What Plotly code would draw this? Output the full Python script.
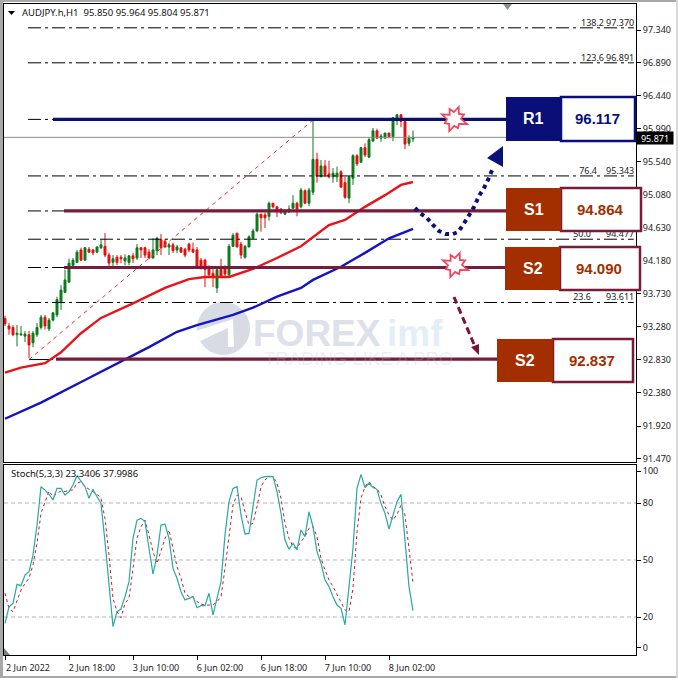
import plotly.graph_objects as go
import math

# ---------- data ----------
opens = [93.39,93.29,93.27,93.17,93.17,93.15,93.17,93.06,93.17,93.27,93.41,93.25,93.37,93.44,93.62,93.75,93.89,94.12,94.16,94.33,94.19,94.34,94.33,94.30,94.36,94.38,94.26,94.16,94.23,94.23,94.18,94.16,94.25,94.22,94.36,94.36,94.30,94.22,94.32,94.47,94.45,94.37,94.40,94.33,94.36,94.34,94.41,94.34,94.33,94.19,94.19,94.08,94.01,93.81,94.08,94.08,93.99,94.38,94.56,94.41,94.23,94.37,94.49,94.59,94.82,94.81,94.79,94.97,94.92,94.89,94.82,94.85,94.90,94.97,94.92,95.14,94.97,95.12,95.57,95.33,95.48,95.37,95.33,95.33,95.40,95.25,95.04,95.31,95.62,95.53,95.73,95.60,95.82,95.96,95.86,95.86,95.93,95.88,96.11,96.18,96.09,95.79,95.850]
highs = [93.43,93.33,93.30,93.30,93.29,93.22,93.22,93.22,93.33,93.44,93.44,93.40,93.48,93.69,93.85,94.06,94.21,94.22,94.33,94.36,94.37,94.37,94.34,94.38,94.47,94.56,94.29,94.26,94.26,94.26,94.27,94.26,94.29,94.41,94.37,94.37,94.34,94.49,94.51,94.55,94.48,94.43,94.43,94.40,94.37,94.36,94.43,94.43,94.37,94.22,94.21,94.12,94.10,94.08,94.21,94.12,94.41,94.56,94.56,94.44,94.40,94.53,94.62,94.84,94.82,94.84,94.99,94.97,94.93,94.90,94.89,94.94,95.08,94.99,95.18,95.16,95.18,96.11,95.66,95.56,95.56,95.55,95.45,95.47,95.42,95.33,95.34,95.64,95.64,95.74,95.79,95.86,96.00,95.99,95.92,95.93,95.93,96.14,96.19,96.19,96.11,95.90,95.964]
lows = [93.29,93.17,93.15,93.01,93.15,93.07,92.85,93.00,93.14,93.24,93.24,93.22,93.35,93.41,93.51,93.74,93.88,94.10,94.15,94.18,94.18,94.29,94.26,94.29,94.34,94.23,94.08,94.11,94.12,94.15,94.12,94.12,94.15,94.19,94.22,94.22,94.21,94.21,94.26,94.26,94.36,94.26,94.29,94.29,94.29,94.23,94.30,94.29,94.08,94.06,93.82,93.95,93.82,93.74,93.96,93.95,93.96,94.37,94.37,94.21,94.21,94.37,94.48,94.58,94.58,94.63,94.73,94.90,94.78,94.82,94.81,94.84,94.89,94.79,94.90,94.96,94.93,95.08,95.25,95.33,95.33,95.31,95.25,95.26,95.18,95.03,94.97,95.22,95.48,95.53,95.60,95.59,95.81,95.85,95.81,95.86,95.86,95.82,96.04,96.01,95.71,95.75,95.804]
closes = [93.32,93.25,93.17,93.19,93.18,93.18,93.03,93.19,93.27,93.41,93.29,93.37,93.47,93.65,93.78,93.92,94.15,94.19,94.30,94.19,94.36,94.30,94.29,94.37,94.40,94.26,94.15,94.21,94.16,94.21,94.22,94.25,94.21,94.36,94.33,94.26,94.22,94.33,94.49,94.36,94.37,94.40,94.32,94.37,94.30,94.26,94.33,94.30,94.10,94.08,94.06,93.99,93.96,94.06,93.97,94.00,94.38,94.53,94.37,94.26,94.38,94.51,94.59,94.82,94.77,94.77,94.97,94.92,94.85,94.84,94.86,94.89,94.97,94.89,95.15,94.97,95.15,95.57,95.34,95.48,95.36,95.33,95.38,95.38,95.19,95.05,95.33,95.62,95.51,95.73,95.63,95.84,95.96,95.86,95.89,95.93,95.88,96.14,96.18,96.09,95.78,95.86,95.871]

ma_red_i = [0,4,10,14,19,24,32,40,46,50,56,62,68,74,81,85,90,95,99,102]
ma_red = [92.65,92.72,92.78,92.93,93.19,93.40,93.60,93.81,93.93,93.96,93.96,94.07,94.22,94.38,94.67,94.74,94.92,95.08,95.22,95.26]
ma_blue_i = [0,9,20,29,36,43,48,57,62,68,74,77,84,90,96,102]
ma_blue = [92.02,92.24,92.55,92.80,93.00,93.21,93.30,93.44,93.54,93.69,93.81,93.92,94.10,94.29,94.49,94.62]

stoch_main = [16.7,25.4,27.2,37.2,36.5,42.1,43.9,52.6,68.4,88.6,86.8,84.6,81.6,87.7,87.7,84.2,86.0,89.5,94.4,91.2,88.6,82.5,87.2,83.3,79.8,59.7,35.1,14.9,22.8,24.2,30.7,38.6,61.4,71.0,71.9,70.2,56.2,42.5,52.6,68.4,68.8,61.4,45.6,40.4,33.3,29.0,29.8,30.7,24.9,26.0,26.0,32.5,21.1,29.8,38.6,63.2,80.7,87.7,88.6,73.7,63.7,64.0,77.2,92.1,93.3,93.9,94.0,93.9,86.0,74.6,60.5,55.6,58.8,55.3,65.8,62.3,75.4,67.5,54.4,48.2,39.5,36.0,30.7,26.3,24.6,15.8,36.0,56.2,87.7,95.1,88.1,90.4,88.2,87.2,79.8,74.6,66.3,73.7,80.7,84.6,59.7,36.0,23.34]
stoch_signal = [32.5,24.6,22.8,29.0,34.2,37.7,40.4,47.4,58.8,74.6,80.7,86.3,83.3,85.1,86.3,86.0,86.8,86.8,90.4,91.2,88.6,87.2,86.0,84.6,82.5,71.9,52.6,29.8,22.8,19.6,27.2,29.8,45.6,61.4,67.5,71.0,63.2,54.4,48.2,54.4,61.4,65.8,56.2,46.5,40.4,32.5,30.7,30.7,28.1,26.8,26.3,26.3,26.3,28.1,30.7,45.6,64.0,79.0,84.2,83.3,75.4,68.4,69.3,78.1,88.6,92.1,93.9,93.9,90.4,82.5,69.3,61.4,57.0,56.2,59.7,62.3,66.7,67.5,62.3,50.9,44.7,39.5,36.0,31.6,27.2,23.7,22.8,35.1,64.9,82.5,88.6,91.2,88.6,87.4,84.2,78.1,73.7,71.0,74.0,78.9,73.7,56.2,38.0]

price_ticks = [97.34,96.89,96.44,95.99,95.54,95.08,94.63,94.18,93.73,93.28,92.83,92.38,91.92,91.47]
price_labels = ["97.340","96.890","96.440","95.990","95.540","95.080","94.630","94.180","93.730","93.280","92.830","92.380","91.920","91.470"]
stoch_ticks = [96.8,80,50,20,3.7]
stoch_labels = ["100","80","50","20","0"]
time_ticks = [0,16,32,48,64,80,96]
time_labels = ["2 Jun 2022","2 Jun 18:00","3 Jun 10:00","6 Jun 02:00","6 Jun 18:00","7 Jun 10:00","8 Jun 02:00"]
fib_pct = ["138.2","123.6","76.4","50.0","23.6"]
fib_price = [97.370,96.891,95.343,94.477,93.611]
fib_levels = [97.370,96.891,96.117,95.343,94.864,94.477,94.090,93.611]
current_price = 95.871
levels = {"R1":96.117,"S1":94.864,"S2a":94.090,"S2b":92.837}

# ---------- styles / layout geometry ----------
W = H = 678
FONT = "Noto Sans"
NAVY = "#0a0f78"; BROWN = "#a32f00"; MAROON = "#7a1a3c"; STAR = "#f0485a"
def PX(x): return x / W
def PY(y): return 1 - y / H
def ix(x): return (x - 5) / 4
def path(pts, close=True):
    s = "M " + " L ".join(f"{PX(a):.5f},{PY(b):.5f}" for a, b in pts)
    return s + (" Z" if close else "")

fig = go.Figure()

# fib lines
for lv in fib_levels:
    fig.add_trace(go.Scatter(x=[ix(28), 157.2], y=[lv, lv], mode="lines", hoverinfo="skip",
                             line=dict(color="#000000", width=1, dash="13px,4px,3px,4px")))
# fib base + diagonal
fig.add_trace(go.Scatter(x=[6, 12], y=[92.83, 92.83], mode="lines", line=dict(color="#000000", width=1)))
fig.add_trace(go.Scatter(x=[6, 77], y=[92.83, 96.11], mode="lines", line=dict(color="#e8303a", width=1, dash="4px,4px")))

# candles
fig.add_trace(go.Candlestick(x=list(range(len(opens))), open=opens, high=highs, low=lows, close=closes,
    whiskerwidth=0,
    increasing=dict(line=dict(color="#0c7a1c", width=1), fillcolor="#0c7a1c"),
    decreasing=dict(line=dict(color="#e3100e", width=1), fillcolor="#e3100e")))

# moving averages
fig.add_trace(go.Scatter(x=ma_red_i, y=ma_red, mode="lines", line=dict(color="#e8141a", width=2.4)))
fig.add_trace(go.Scatter(x=ma_blue_i, y=ma_blue, mode="lines", line=dict(color="#1414c0", width=2.4)))

# current price line
fig.add_trace(go.Scatter(x=[-0.25, 157.75], y=[current_price]*2, mode="lines", line=dict(color="#8c8c8c", width=1)))

# heavy levels
for name, start, end, col in [("R1",53,506,NAVY),("S1",64,506,MAROON),("S2a",64,506,MAROON),("S2b",56,498,MAROON)]:
    fig.add_trace(go.Scatter(x=[ix(start), ix(end)], y=[levels[name]]*2, mode="lines", line=dict(color=col, width=3.2)))

# fib labels (kept below the boxes, as in the reference)
fig.add_trace(go.Scatter(x=[157.3]*len(fib_price), y=fib_price, mode="text", text=[f"{v:.3f}" for v in fib_price],
    textposition="top left", textfont=dict(family=FONT, size=9, color="#222222"), cliponaxis=False))
fig.add_trace(go.Scatter(x=[ix(604),ix(604),ix(597),ix(591),ix(591)], y=fib_price, mode="text", text=fib_pct,
    textposition="top left", textfont=dict(family=FONT, size=9, color="#222222"), cliponaxis=False))

# stochastic
for lv in (80, 50, 20):
    fig.add_trace(go.Scatter(x=[-0.25, 157.75], y=[lv, lv], mode="lines", xaxis="x2", yaxis="y2",
                             line=dict(color="#b5b5b5", width=1, dash="4px,3px")))
fig.add_trace(go.Scatter(x=list(range(len(stoch_signal))), y=stoch_signal, mode="lines", xaxis="x2", yaxis="y2",
                         line=dict(color="#d8141c", width=1, dash="3px,3px")))
fig.add_trace(go.Scatter(x=list(range(len(stoch_main))), y=stoch_main, mode="lines", xaxis="x2", yaxis="y2",
                         line=dict(color="#25aaa4", width=1.2)))

shapes, annos = [], []
def rect(x0, y0, x1, y1, fill=None, line=None, lw=0, layer="above"):
    shapes.append(dict(type="rect", xref="paper", yref="paper", x0=PX(x0), x1=PX(x1), y0=PY(y0), y1=PY(y1),
                       fillcolor=fill or "rgba(0,0,0,0)", line=dict(color=line or "rgba(0,0,0,0)", width=lw), layer=layer))
def text(x, y, t, size, color="#000000", bold=False, anchor="center", family=FONT, **kw):
    annos.append(dict(xref="paper", yref="paper", x=PX(x), y=PY(y), text=f"<b>{t}</b>" if bold else t, showarrow=False,
                      xanchor=anchor, yanchor="middle", font=dict(family=family, size=size, color=color), **kw))

# window frame
rect(0, 0, 3, 678, fill="#a8a8a8", layer="below")
rect(0, 0, 678, 2, fill="#a8a8a8", layer="below")
rect(0, 676, 678, 678, fill="#a8a8a8", layer="below")
rect(676, 0, 678, 678, fill="#d8d8d8", layer="below")

# watermark
shapes.append(dict(type="circle", xref="paper", yref="paper", x0=PX(197), x1=PX(250), y0=PY(355), y1=PY(302),
                   fillcolor="#d8dae4", line=dict(width=0), layer="below"))
shapes.append(dict(type="path", xref="paper", yref="paper", layer="below", fillcolor="#ffffff", line=dict(width=0),
                   path=path([(196,331),(233,319),(234,347),(228,347),(228,328),(200,341)])))
text(251, 333, "FOREX", 37, "#dfe1ea", True, "left", "Liberation Sans")
text(385, 333, "imf", 37, "#e3eff8", True, "left", "Liberation Sans")
text(262, 358, "TRADING LIKE A PRO", 18.5, "rgba(190,190,205,0.25)", False, "left", "Liberation Sans")

# boxes
def box(x0, y0, x1, y1, xm, col, border, lab, val, valcol):
    rect(xm, y0, x1, y1, fill="#ffffff", line=border, lw=2.5)
    rect(x0, y0, xm, y1, fill=col)
    text((x0 + xm) / 2, (y0 + y1) / 2, lab, 16, "#ffffff", True, family="Liberation Sans")
    text((xm + x1) / 2 - 1, (y0 + y1) / 2, val, 15, valcol, True, family="Liberation Sans")
box(506, 97, 635, 141, 561, NAVY, NAVY, "R1", f"{levels['R1']:.3f}", NAVY)
box(506, 188, 641, 231, 561, BROWN, MAROON, "S1", f"{levels['S1']:.3f}", BROWN)
box(505, 247, 640, 290, 560, BROWN, MAROON, "S2", f"{levels['S2a']:.3f}", BROWN)
box(497, 339, 633, 382, 553, BROWN, MAROON, "S2", f"{levels['S2b']:.3f}", BROWN)

# explosion stars
star_r = [13,7,11,7,14,7,10,7,13,7,10,7,13,6,11,7]
for cx, cy in [(454,119),(455,265)]:
    pts = [(cx + r*math.cos(2*math.pi*k/len(star_r)-1.2), cy + r*math.sin(2*math.pi*k/len(star_r)-1.2)) for k, r in enumerate(star_r)]
    shapes.append(dict(type="path", xref="paper", yref="paper", path=path(pts), fillcolor="#ffffff",
                       line=dict(color=STAR, width=1.8), layer="above"))

# navy dotted arrow
navy_curve = [(415,208),(420,213),(427,218),(433,225),(439,231),(446,234),(453,234),(458,232),(463,225),(468,217),(474,207),(479,196),(484,188),(488,180),(493,168)]
shapes.append(dict(type="path", xref="paper", yref="paper", path=path(navy_curve, False), fillcolor="rgba(0,0,0,0)",
                   line=dict(color="#0a1278", width=4, dash="4px,4px"), layer="above"))
shapes.append(dict(type="path", xref="paper", yref="paper", path=path([(487,158),(503,146),(503,167)]), fillcolor="#0a1278",
                   line=dict(width=0), layer="above"))

# maroon dashed arrow
shapes.append(dict(type="path", xref="paper", yref="paper", path=path([(454,297),(476,349)], False), fillcolor="rgba(0,0,0,0)",
                   line=dict(color="#7a1535", width=3, dash="7px,4px"), layer="above"))
shapes.append(dict(type="path", xref="paper", yref="paper", path=path([(471,347),(479,344),(479,355)]), fillcolor="#7a1535",
                   line=dict(width=0), layer="above"))

# header and small glyphs
shapes.append(dict(type="path", xref="paper", yref="paper", path=path([(8,11),(15,11),(11.5,15)]), fillcolor="#000000", line=dict(width=0), layer="above"))
shapes.append(dict(type="path", xref="paper", yref="paper", path=path([(503,4),(512,4),(507.5,10)]), fillcolor="#8a8f98", line=dict(width=0), layer="above"))
shapes.append(dict(type="path", xref="paper", yref="paper", path=path([(4,648),(10,655),(4,655)]), fillcolor="#7a8088", line=dict(width=0), layer="above"))
text(20, 13, "AUDJPY.h,H1  95.850 95.964 95.804 95.871", 9.5, "#111111", False, "left")
text(9, 473, "Stoch(5,3,3) 23.3406 37.9986", 9.5, "#111111", False, "left")
annos.append(dict(xref="paper", yref="paper", x=PX(655), y=PY(138), text=f"{current_price:.3f}", showarrow=False,
                  font=dict(family=FONT, size=9, color="#ffffff"), bgcolor="#000000", borderpad=0, width=36, height=12,
                  xanchor="center", yanchor="middle"))

axis_common = dict(showgrid=False, zeroline=False, showline=True, linecolor="#000000", linewidth=1, mirror=True, automargin=False)
fig.update_layout(
    width=W, height=H, margin=dict(l=0, r=0, t=0, b=0, pad=0, autoexpand=False), autosize=False,
    paper_bgcolor="#ffffff", plot_bgcolor="rgba(0,0,0,0)", showlegend=False, hovermode=False,
    shapes=shapes, annotations=annos, font=dict(family=FONT, size=9, color="#111111"),
    xaxis=dict(domain=[PX(4), PX(636)], range=[-0.25, 157.75], anchor="y", showticklabels=False, ticks="",
               rangeslider=dict(visible=False), **axis_common),
    yaxis=dict(domain=[PY(462), PY(4)], range=[91.428, 97.696], side="right", anchor="x", tickvals=price_ticks,
               ticktext=price_labels, ticks="outside", ticklen=4, tickcolor="#000000",
               tickfont=dict(family=FONT, size=9, color="#222222"), **axis_common),
    xaxis2=dict(domain=[PX(4), PX(636)], range=[-0.25, 157.75], anchor="y2", tickvals=time_ticks, ticktext=time_labels,
                ticks="outside", ticklen=4, tickcolor="#000000", ticklabelshift=23,
                tickfont=dict(family=FONT, size=9, color="#222222"), **axis_common),
    yaxis2=dict(domain=[PY(655), PY(465)], range=[0, 100], side="right", anchor="x2", tickvals=stoch_ticks,
                ticktext=stoch_labels, ticks="outside", ticklen=4, tickcolor="#000000",
                tickfont=dict(family=FONT, size=9, color="#222222"), **axis_common),
)
fig.write_html("out.html", config=dict(displayModeBar=False),
               post_script="document.body.style.margin='0';document.documentElement.style.overflow='hidden';")
